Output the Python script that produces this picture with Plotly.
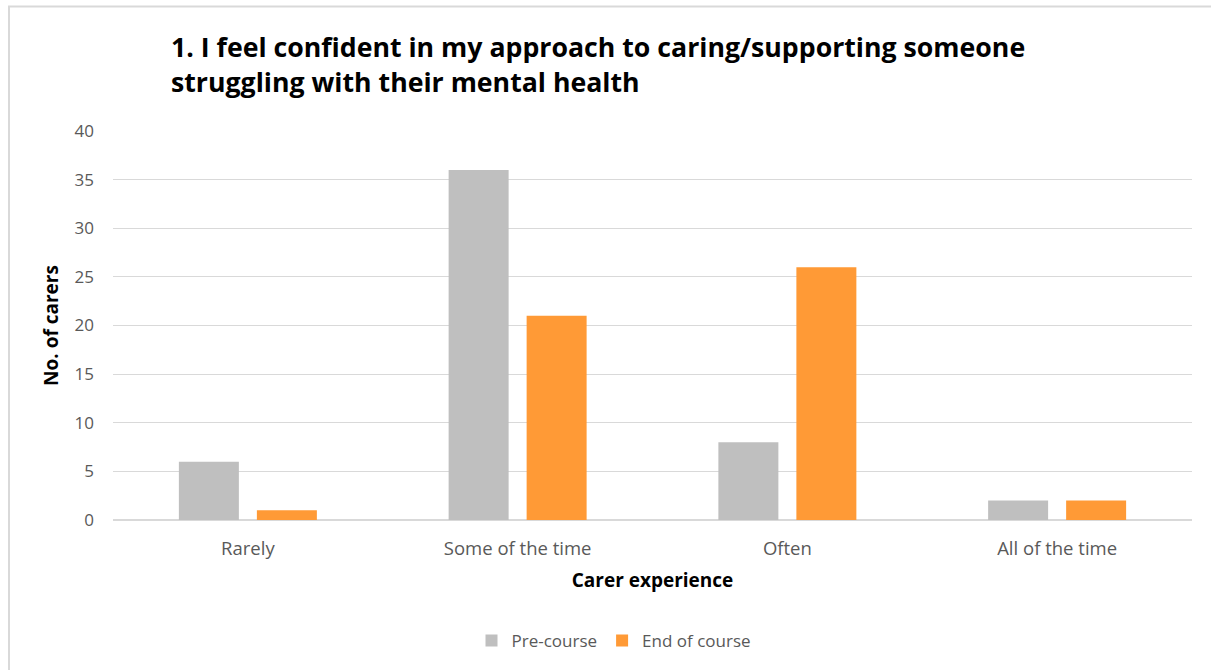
import plotly.graph_objects as go

# Survey responses: how often carers feel confident, before and after the course
categories = ["Rarely", "Some of the time", "Often", "All of the time"]
pre_course = [6, 36, 8, 2]
end_of_course = [1, 21, 26, 2]
y_ticks = [0, 5, 10, 15, 20, 25, 30, 35, 40]

FONT = "Open Sans, Calibri, sans-serif"
TICK_GREY = "#595959"
GRID = "#d9d9d9"

fig = go.Figure()
fig.add_trace(go.Bar(name="Pre-course", x=categories, y=pre_course,
                     marker=dict(color="#bfbfbf", line=dict(width=0))))
fig.add_trace(go.Bar(name="End of course", x=categories, y=end_of_course,
                     marker=dict(color="#ff9a36", line=dict(width=0))))

W, H = 1211, 670
L, R, T, B = 113, 19, 131, 150
pw, ph = W - L - R, H - T - B


def px_x(x):
    return (x - L) / pw


def px_y(y):
    return (H - B - y) / ph


fig.update_layout(
    width=W, height=H,
    margin=dict(l=L, r=R, t=T, b=B, autoexpand=False),
    paper_bgcolor="white", plot_bgcolor="white",
    font=dict(family=FONT, color=TICK_GREY, size=18),
    barmode="group", bargap=0.4217, bargroupgap=0.2308,
    title=dict(
        text="1. I feel confident in my approach to caring/supporting someone<br>"
             "struggling with their mental health",
        font=dict(family=FONT, size=26.7, color="black", weight="bold"),
        x=px_x(171), xref="paper", xanchor="left",
        y=1 - 57 / H, yref="container", yanchor="top",
    ),
    showlegend=True,
    legend=dict(orientation="h", x=px_x(614), xanchor="center",
                y=px_y(641), yanchor="middle",
                font=dict(size=17, color=TICK_GREY), traceorder="normal"),
    xaxis=dict(showgrid=False, showline=True, linecolor=GRID, linewidth=1,
               ticks="", tickfont=dict(size=18.5, color=TICK_GREY),
               ticklabelstandoff=12,
               title=dict(text="Carer experience",
                          font=dict(size=19, color="black", weight="bold"),
                          standoff=14)),
    yaxis=dict(range=[0, 40], tickvals=y_ticks, showgrid=True, gridcolor=GRID,
               gridwidth=1, zeroline=True, zerolinecolor=GRID, showline=False,
               ticks="", tickfont=dict(size=17, color=TICK_GREY),
               ticklabelstandoff=18,
               title=dict(text="No. of carers",
                          font=dict(size=19, color="black", weight="bold"),
                          standoff=10)),
    shapes=[dict(type="rect", xref="paper", yref="paper",
                 x0=px_x(9), x1=px_x(1216), y0=px_y(676), y1=px_y(6.5),
                 line=dict(color="#d9d9d9", width=2), fillcolor="rgba(0,0,0,0)",
                 layer="below")],
)

fig.write_html("out.html")
